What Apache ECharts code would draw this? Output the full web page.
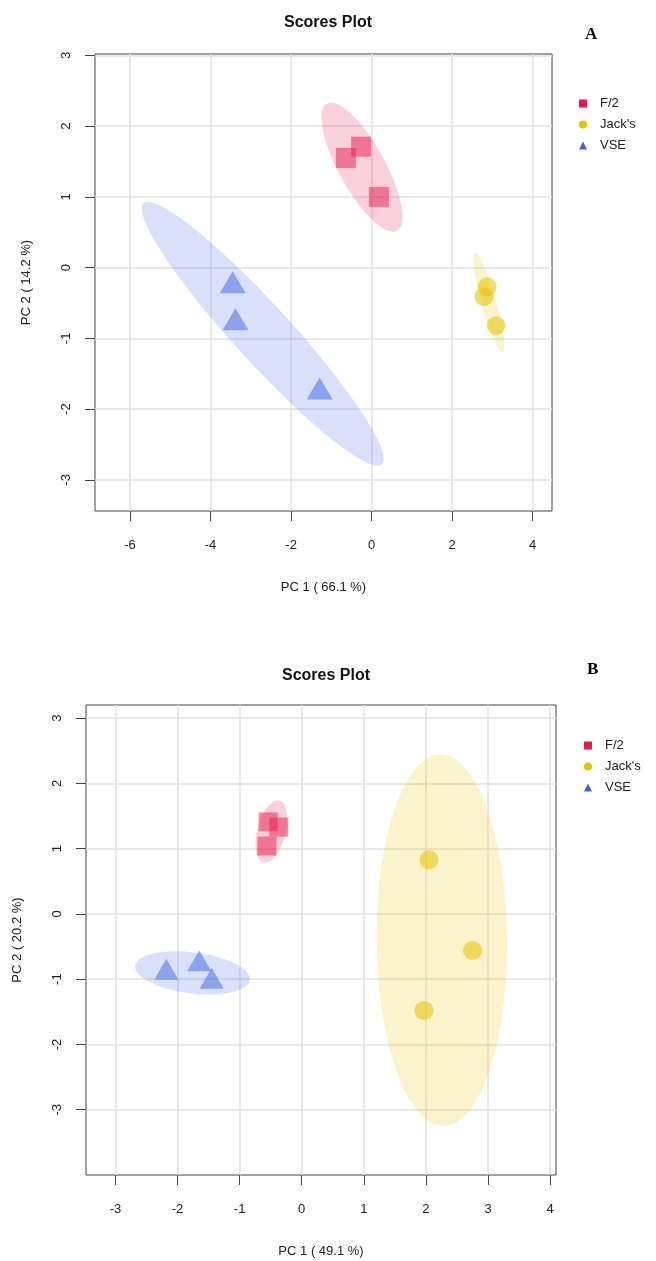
<!DOCTYPE html>
<html><head><meta charset="utf-8">
<script src="https://cdn.jsdelivr.net/npm/echarts@6/dist/echarts.min.js"></script>
<style>html,body{margin:0;padding:0;background:#fff}#c{width:656px;height:1261px}</style>
</head><body><div id="c"></div>
<script>
// ---- data ----
const groups = ['F/2', "Jack's", 'VSE'];
// Plot A
const a_f2_x = [-0.64, -0.26, 0.18];
const a_f2_y = [1.55, 1.71, 1.00];
const a_jack_x = [2.87, 2.79, 3.09];
const a_jack_y = [-0.27, -0.41, -0.82];
const a_vse_x = [-3.45, -3.38, -1.29];
const a_vse_y = [-0.26, -0.78, -1.76];
// Plot B
const b_f2_x = [-0.54, -0.37, -0.56];
const b_f2_y = [1.41, 1.33, 1.04];
const b_jack_x = [2.05, 2.75, 1.97];
const b_jack_y = [0.83, -0.56, -1.48];
const b_vse_x = [-2.18, -1.65, -1.45];
const b_vse_y = [-0.90, -0.77, -1.04];
// ticks
const a_xticks = [-6, -4, -2, 0, 2, 4];
const a_yticks = [-3, -2, -1, 0, 1, 2, 3];
const b_xticks = [-3, -2, -1, 0, 1, 2, 3, 4];
const b_yticks = [-3, -2, -1, 0, 1, 2, 3];
const a_xname = 'PC 1 ( 66.1 %)', a_yname = 'PC 2 ( 14.2 %)';
const b_xname = 'PC 1 ( 49.1 %)', b_yname = 'PC 2 ( 20.2 %)';
const titleText = 'Scores Plot';

// ---- styling ----
const baseCol = ['#E6194B', '#E6C300', '#3F63DF'];
const ptCol = ['rgba(230,25,75,0.5)', 'rgba(230,195,0,0.55)', 'rgba(63,99,223,0.5)'];
const ellCol = ['rgba(230,25,75,0.2)', 'rgba(230,195,0,0.2)', 'rgba(63,99,223,0.2)'];
const FONT = 'Liberation Sans';

function zip(xs, ys) { return xs.map((x, i) => [x, ys[i]]); }

// 95% confidence ellipse from group covariance
function ellipse(xs, ys, n) {
  const m = xs.length;
  const mx = xs.reduce((a, b) => a + b, 0) / m, my = ys.reduce((a, b) => a + b, 0) / m;
  let sxx = 0, syy = 0, sxy = 0;
  for (let i = 0; i < m; i++) {
    const dx = xs[i] - mx, dy = ys[i] - my;
    sxx += dx * dx; syy += dy * dy; sxy += dx * dy;
  }
  sxx /= (m - 1); syy /= (m - 1); sxy /= (m - 1);
  const tr = sxx + syy, det = sxx * syy - sxy * sxy;
  const disc = Math.sqrt(Math.max(tr * tr / 4 - det, 0));
  const l1 = tr / 2 + disc, l2 = Math.max(tr / 2 - disc, 0);
  let vx, vy;
  if (Math.abs(sxy) > 1e-12) { vx = l1 - syy; vy = sxy; }
  else if (sxx >= syy) { vx = 1; vy = 0; } else { vx = 0; vy = 1; }
  const len = Math.hypot(vx, vy); vx /= len; vy /= len;
  const t = Math.sqrt(-2 * Math.log(0.05));
  const a = t * Math.sqrt(l1), b = t * Math.sqrt(l2);
  const pts = [];
  for (let k = 0; k < n; k++) {
    const th = 2 * Math.PI * k / n, c = Math.cos(th), s = Math.sin(th);
    pts.push([mx + a * c * vx - b * s * vy, my + a * c * vy + b * s * vx]);
  }
  return pts;
}

function ellSeries(idx, xs, ys, gi) {
  const pts = ellipse(xs, ys, 160);
  return {
    type: 'custom', name: groups[idx] + ' region ' + gi, xAxisIndex: gi, yAxisIndex: gi,
    silent: true, data: [0], clip: true,
    renderItem: (params, api) => ({
      type: 'polygon', shape: { points: pts.map(p => api.coord(p)) },
      style: { fill: ellCol[idx] }
    })
  };
}
const symbols = ['rect', 'circle', 'triangle'];
function ptSeries(idx, xs, ys, gi, sizes) {
  return {
    type: 'scatter', name: groups[idx], xAxisIndex: gi, yAxisIndex: gi,
    symbol: symbols[idx], symbolSize: sizes[idx],
    symbolOffset: idx === 2 ? [0, -sizes[idx][1] / 6] : [0, 0],
    itemStyle: { color: ptCol[idx], opacity: 1 },
    data: zip(xs, ys), silent: true
  };
}

function xAxis(gi, min, max, ticks, name) {
  return {
    type: 'value', gridIndex: gi, min, max, name, nameLocation: 'middle', nameGap: 70,
    nameTextStyle: { fontFamily: FONT, fontSize: 13, color: '#222' },
    axisLine: { show: false, onZero: false },
    axisTick: { show: true, length: 10, customValues: ticks, lineStyle: { color: '#444', width: 1 } },
    axisLabel: { customValues: ticks, margin: 28, fontFamily: FONT, fontSize: 13, color: '#222' },
    splitLine: { show: true, lineStyle: { color: '#E2E2E2', width: 1.5 } }
  };
}
function yAxis(gi, min, max, ticks, name) {
  return {
    type: 'value', gridIndex: gi, min, max, name, nameLocation: 'middle', nameGap: 62,
    nameTextStyle: { fontFamily: FONT, fontSize: 13, color: '#222' },
    axisLine: { show: false, onZero: false },
    axisTick: { show: true, length: 10, customValues: ticks, lineStyle: { color: '#444', width: 1 } },
    axisLabel: { customValues: ticks, rotate: 90, margin: 22, fontFamily: FONT, fontSize: 13, color: '#222' },
    splitLine: { show: true, lineStyle: { color: '#E2E2E2', width: 1.5 } }
  };
}
function legendData() {
  return groups.map((g, i) => ({ name: g, icon: symbols[i], itemStyle: { color: baseCol[i], opacity: 1 } }));
}

const chart = echarts.init(document.getElementById('c'), null, { renderer: 'canvas' });
chart.setOption({
  animation: false,
  backgroundColor: '#fff',
  title: [
    { text: titleText, left: 323, top: 10, textAlign: 'center', textStyle: { fontFamily: FONT, fontSize: 16, fontWeight: 'bold', color: '#111' } },
    { text: 'A', left: 580, top: 21, textStyle: { fontFamily: 'Liberation Serif', fontSize: 17, fontWeight: 'bold', color: '#000' } },
    { text: titleText, left: 321, top: 663, textAlign: 'center', textStyle: { fontFamily: FONT, fontSize: 16, fontWeight: 'bold', color: '#111' } },
    { text: 'B', left: 582, top: 656, textStyle: { fontFamily: 'Liberation Serif', fontSize: 17, fontWeight: 'bold', color: '#000' } }
  ],
  legend: [
    { data: legendData(), orient: 'vertical', left: 579, top: 97, padding: 0, itemWidth: 8, itemHeight: 8, itemGap: 8,
      selectedMode: false, textStyle: { fontFamily: FONT, fontSize: 13, color: '#222', padding: [0, 0, 0, 8] } },
    { data: legendData(), orient: 'vertical', left: 584, top: 739, padding: 0, itemWidth: 8, itemHeight: 8, itemGap: 8,
      selectedMode: false, textStyle: { fontFamily: FONT, fontSize: 13, color: '#222', padding: [0, 0, 0, 8] } }
  ],
  grid: [
    { left: 95, top: 54, width: 457, height: 457, show: true, borderColor: '#444', borderWidth: 1, backgroundColor: 'transparent' },
    { left: 86, top: 705, width: 470, height: 470, show: true, borderColor: '#444', borderWidth: 1, backgroundColor: 'transparent' }
  ],
  xAxis: [xAxis(0, -6.87, 4.48, a_xticks, a_xname), xAxis(1, -3.474, 4.095, b_xticks, b_xname)],
  yAxis: [yAxis(0, -3.44, 3.02, a_yticks, a_yname), yAxis(1, -4.0, 3.2, b_yticks, b_yname)],
  series: [
    ellSeries(0, a_f2_x, a_f2_y, 0), ellSeries(1, a_jack_x, a_jack_y, 0), ellSeries(2, a_vse_x, a_vse_y, 0),
    ellSeries(0, b_f2_x, b_f2_y, 1), ellSeries(1, b_jack_x, b_jack_y, 1), ellSeries(2, b_vse_x, b_vse_y, 1),
    ptSeries(0, a_f2_x, a_f2_y, 0, [20, 19, [26, 22]]), ptSeries(1, a_jack_x, a_jack_y, 0, [20, 19, [26, 22]]), ptSeries(2, a_vse_x, a_vse_y, 0, [20, 19, [26, 22]]),
    ptSeries(0, b_f2_x, b_f2_y, 1, [19, 19, [24, 21]]), ptSeries(1, b_jack_x, b_jack_y, 1, [19, 19, [24, 21]]), ptSeries(2, b_vse_x, b_vse_y, 1, [19, 19, [24, 21]])
  ]
});
</script></body></html>
